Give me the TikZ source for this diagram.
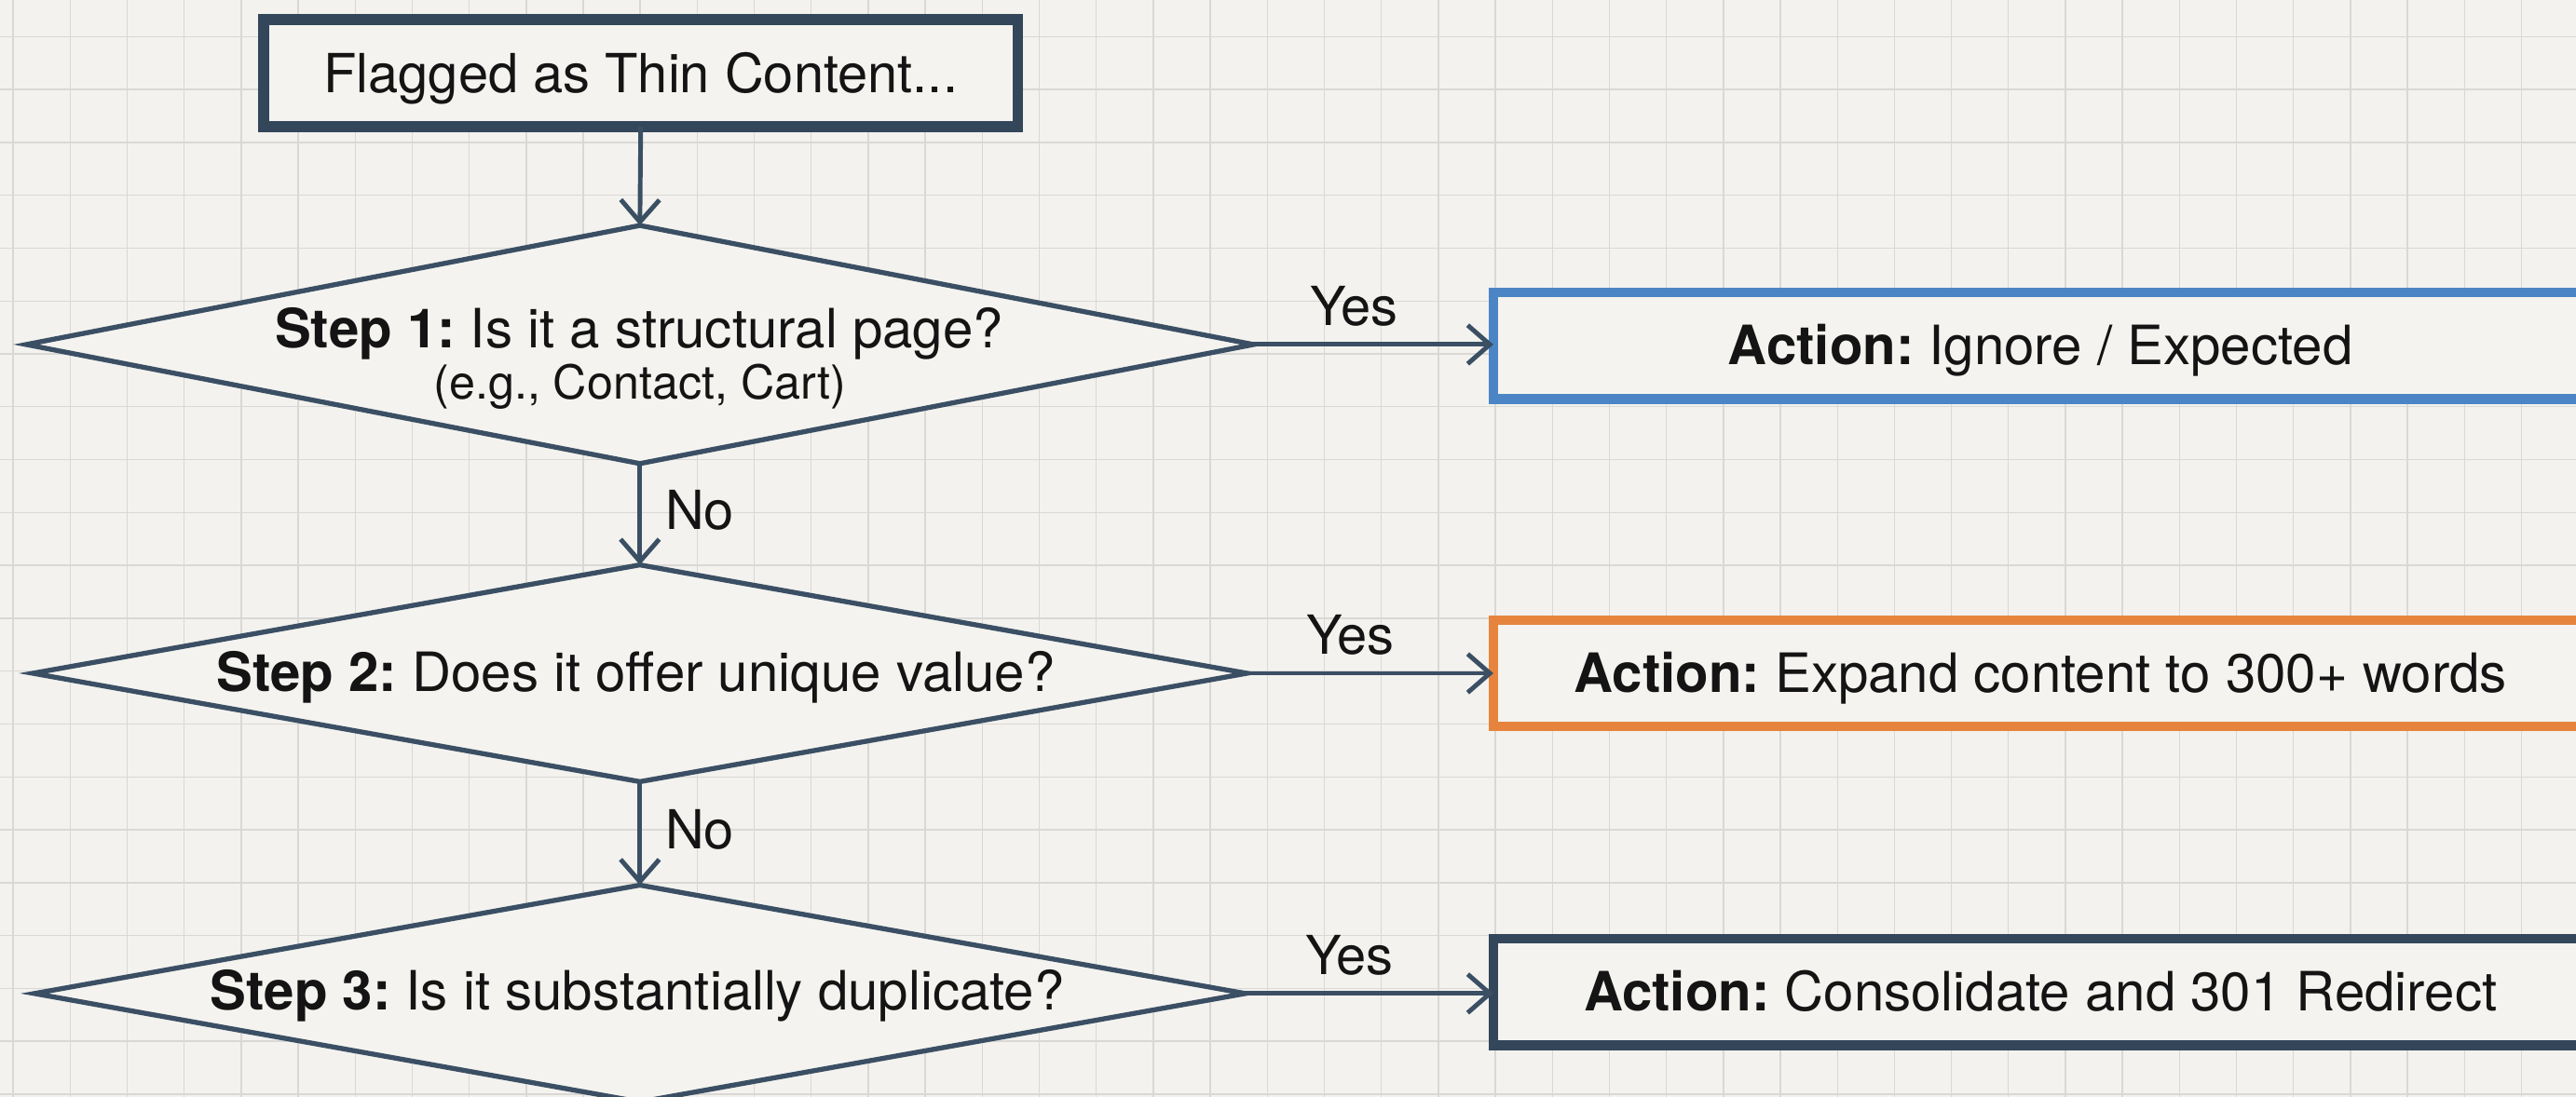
\documentclass[tikz,border=0pt]{standalone}
\usepackage{fontspec}
\setmainfont{TeX Gyre Heros}
\frenchspacing
\usetikzlibrary{shapes.geometric,arrows.meta}
\definecolor{bg}{HTML}{F3F2EE}
\definecolor{boxfill}{HTML}{F4F3EF}
\definecolor{gridc}{HTML}{D9D8D4}
\definecolor{lnc}{HTML}{3B4F64}
\definecolor{slate}{HTML}{33465A}
\definecolor{bluec}{HTML}{4C85C5}
\definecolor{orangec}{HTML}{E6843E}
\definecolor{ink}{HTML}{141414}
\tikzset{
  gridln/.style={draw=gridc, line width=0.8pt},
  flagbox/.style={draw=slate, line width=6.5pt, fill=boxfill, minimum width=459pt, minimum height=65pt,
    inner sep=0pt, outer sep=0pt, text height=23.5pt, text depth=0pt, text=ink,
    font=\fontsize{32.8}{39}\selectfont},
  actbox/.style={line width=5.8pt, fill=boxfill, minimum width=666pt, minimum height=65pt,
    inner sep=0pt, outer sep=0pt, text height=23.5pt, text depth=0pt, text=ink,
    font=\fontsize{33}{39}\selectfont},
  dia/.style={shape=diamond, draw=lnc, line width=3pt, fill=boxfill, inner sep=0pt, outer sep=0pt},
  conn/.style={draw=lnc, line width=2.8pt, -{Straight Barb[length=13.5pt,width=23.5pt]}},
  lbl/.style={font=\fontsize{32.8}{39}\selectfont, text=ink, inner sep=0pt, text height=23.5pt, text depth=0pt},
  qtxt/.style={font=\fontsize{33}{39}\selectfont, text=ink, inner sep=0pt, anchor=base},
  subtxt/.style={font=\fontsize{28.5}{34}\selectfont, text=ink, inner sep=0pt, anchor=base},
}
\begin{document}
\begin{tikzpicture}[x=1pt,y=-1pt]
\useasboundingbox (0,0) rectangle (1568,668);
\fill[bg] (0,0) rectangle (1568,668);
\begin{scope}
\clip (0,0) rectangle (1568,668);
\foreach \i in {0,...,45} \draw[gridln] ({8+34.7*\i},0) -- ({8+34.7*\i},668);
\foreach \j in {-1,...,20} \draw[gridln] (0,{22.3+32.2*\j}) -- (1568,{22.3+32.2*\j});

\node[flagbox] (top) at (390,44.5) {Flagged as Thin Content...};

\node[dia, minimum width=747pt, minimum height=145pt] (d1) at (389.5,209.8) {};
\node[qtxt] (d1t) at (389,211.7) {\textbf{Step 1:} Is it a structural page?};
\node[subtxt] (d1s) at (389.5,243) {(e.g., Contact, Cart)};

\node[dia, minimum width=739pt, minimum height=132pt] (d2) at (389.5,410) {};
\node[qtxt] (d2t) at (387,421) {\textbf{Step 2:} Does it offer unique value?};

\node[dia, minimum width=737pt, minimum height=132pt] (d3) at (389.5,605) {};
\node[qtxt] (d3t) at (388,615) {\textbf{Step 3:} Is it substantially duplicate?};

\node[actbox, draw=bluec] (a1) at (1242,210.5) {\textbf{Action:} Ignore / Expected};
\node[actbox, draw=orangec] (a2) at (1242,410) {\textbf{Action:} Expand content to 300+ words};
\node[actbox, draw=slate] (a3) at (1242,604) {\textbf{Action:} Consolidate and 301 Redirect};

\draw[conn] (top.south) -- (d1.north);
\draw[conn] (d1.south) -- node[lbl, anchor=west, xshift=14pt, yshift=2.5pt] (no1) {No} (d2.north);
\draw[conn] (d2.south) -- node[lbl, anchor=west, xshift=14pt, yshift=2.5pt] (no2) {No} (d3.north);
\draw[conn] (d1.east) -- node[lbl, pos=0.42, anchor=south, yshift=10pt] (y1) {Yes} (d1.east -| a1.west);
\draw[conn] (d2.east) -- node[lbl, pos=0.42, anchor=south, yshift=10pt] (y2) {Yes} (d2.east -| a2.west);
\draw[conn] (d3.east) -- node[lbl, pos=0.42, anchor=south, yshift=10pt] (y3) {Yes} (d3.east -| a3.west);
\end{scope}
\end{tikzpicture}
\end{document}
